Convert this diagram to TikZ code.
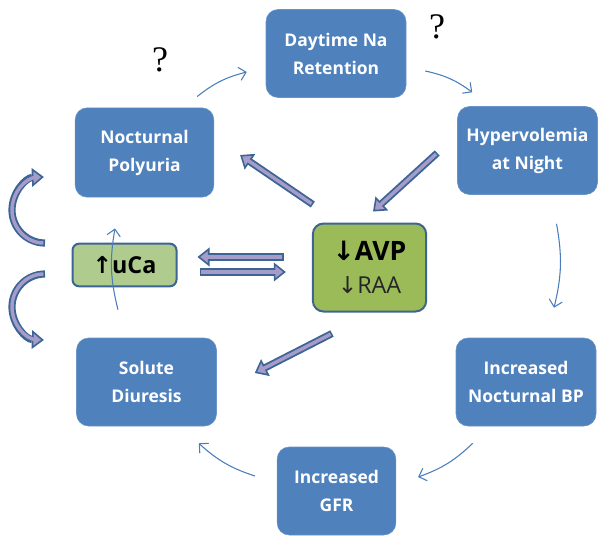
\documentclass[tikz,border=0pt]{standalone}
\usepackage{fontspec}
\setmainfont{Open Sans}
\newfontfamily\qfont{Liberation Serif}
\newfontfamily\arrfont{DejaVu Sans}
\usetikzlibrary{arrows.meta, calc}
\definecolor{BoxBlue}{HTML}{4F81BD}
\definecolor{LineBlue}{HTML}{4A7EBB}
\definecolor{EdgeBlue}{HTML}{3C6494}
\definecolor{Lilac}{HTML}{A69CC9}
\definecolor{AvpGreen}{HTML}{9BBB59}
\definecolor{CaGreen}{HTML}{AFCB8D}
\newcommand{\upa}{{\arrfont ↑}}
\newcommand{\dna}{{\arrfont ↓}}

\begin{document}
\begin{tikzpicture}[x=0.75pt, y=-0.75pt,
    box/.style={fill=BoxBlue, draw=BoxBlue!85!white, rounded corners=9pt, text=white,
        align=center, font=\fontsize{13.1}{21}\selectfont\bfseries,
        minimum width=105pt, minimum height=66pt, inner sep=0pt},
    gbox/.style={draw=EdgeBlue, line width=1.5pt, rounded corners=8pt, align=center,
        inner sep=0pt},
    flow/.style={LineBlue, line width=0.8pt, -{Straight Barb[length=5pt, width=10pt]},
        bend left=12},
    fat/.style={EdgeBlue, line width=5.4pt,
        -{Triangle[length=9pt, width=14pt, fill=Lilac, line width=1.2pt]},
        postaction={draw=Lilac, line width=2.6pt, -, shorten >=6pt, shorten <=1.2pt}},
    qmark/.style={font=\qfont\fontsize{27}{27}\selectfont, text=black}
]
\useasboundingbox (0,0) rectangle (598,535);

\node[box] (day) at (336,53.5) {Daytime Na\\Retention};
\node[box] (hyp) at (527.5,150.5) {Hypervolemia\\at Night};
\node[box, minimum width=104pt, minimum height=67pt] (poly) at (144.5,152.5) {Nocturnal\\Polyuria};
\node[box] (sol) at (146.5,382) {Solute\\Diuresis};
\node[box] (bp) at (526,382) {Increased\\Nocturnal BP};
\node[box, minimum width=89pt] (gfr) at (336.5,491) {Increased\\GFR};

\node[gbox, fill=AvpGreen, minimum width=85pt, minimum height=66pt,
    font=\fontsize{17.5}{25}\selectfont] (avp) at (369.5,267.5)
    {{\fontsize{20}{25}\selectfont\bfseries\dna AVP}\\
     {\color{black!85}\dna RAA}};
\node[gbox, fill=CaGreen, rounded corners=5pt, minimum width=78pt, minimum height=32pt,
    font=\fontsize{17.5}{18}\selectfont\bfseries] (uca) at (124.5,265) {\upa uCa};

\node[qmark] (q1) at (160,60) {?};
\node[qmark] (q2) at (437,27) {?};

% cycle
\draw[flow] ([shift={(-17,-11)}]poly.north east) to ([shift={(-19,18.5)}]day.west);
\draw[flow] ([shift={(19,17.5)}]day.east) to ([shift={(15,-14)}]hyp.north west);
\draw[flow] ([shift={(29,29)}]hyp.south) to ([shift={(28,-30)}]bp.north);
\draw[flow] ([shift={(17,17)}]bp.south west) to ([shift={(22,-14)}]gfr.east);
\draw[flow] ([shift={(-22,-15)}]gfr.west) to ([shift={(-18,17)}]sol.south east);
\draw[flow] ([shift={(-28.5,-28)}]sol.north) to ([shift={(-29.5,31)}]poly.south);

\draw[fat] ([shift={(1,-18)}]avp.north west) -- ([shift={(26,2.5)}]poly.east);
\draw[fat] ([shift={(-20,2.5)}]hyp.west) -- ([shift={(3.5,-11)}]avp.north);
\draw[fat] ([shift={(-37.5,21)}]avp.south) -- ([shift={(38,-9)}]sol.east);
\draw[fat] ([shift={(-28,-10.5)}]avp.west) -- ([shift={(20,-8)}]uca.east);
\draw[fat] ([shift={(22,7)}]uca.east) -- ([shift={(-26,4.5)}]avp.west);

\draw[fat] (45,243) arc[start angle=90, end angle=268, radius=33];
\draw[fat] (45,274) arc[start angle=270, end angle=92, radius=33];

\end{tikzpicture}
\end{document}
